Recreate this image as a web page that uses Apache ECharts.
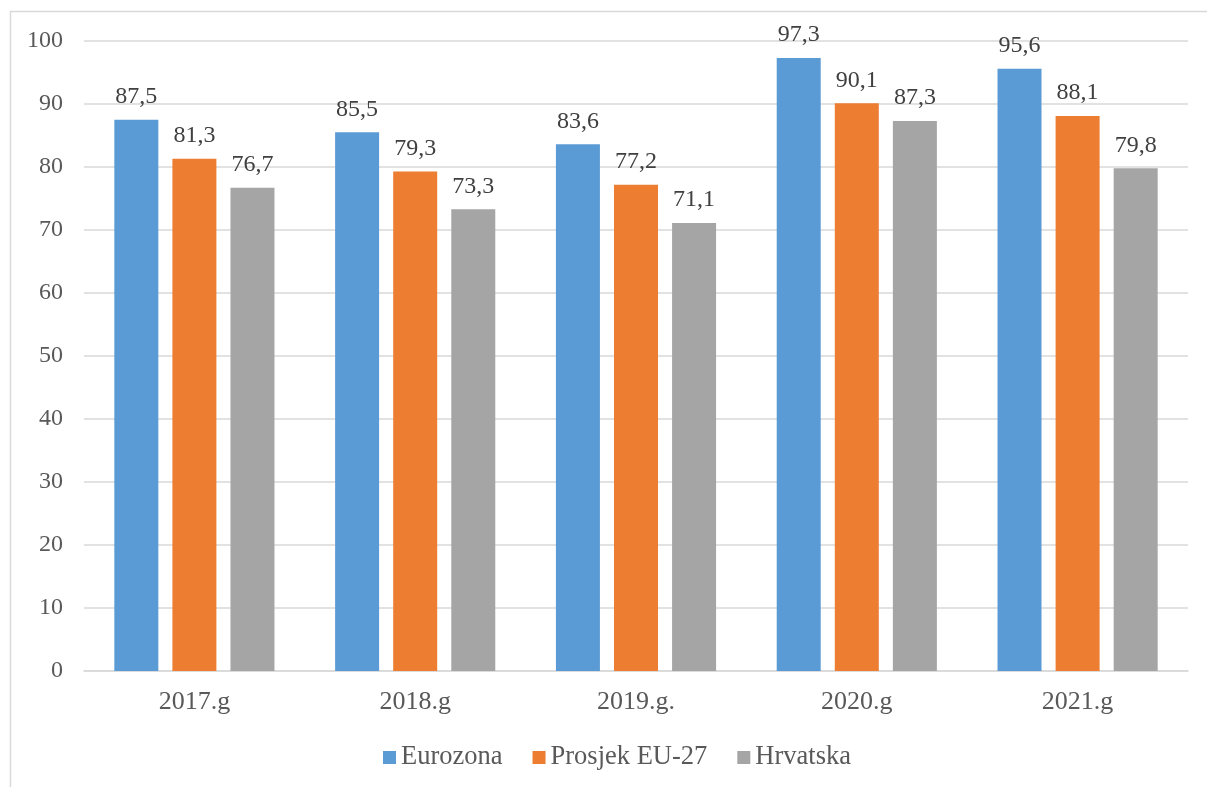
<!DOCTYPE html>
<html>
<head>
<meta charset="utf-8">
<style>
  html, body { margin: 0; padding: 0; background: #ffffff; }
  #chart { width: 1207px; height: 787px; }
</style>
<script src="https://cdn.jsdelivr.net/npm/echarts@6/dist/echarts.min.js"></script>
</head>
<body>
<div id="chart"></div>
<script>
// Categories (years) and series values
const years = ['2017.g', '2018.g', '2019.g.', '2020.g', '2021.g'];
const eurozona = [87.5, 85.5, 83.6, 97.3, 95.6];
const prosjekEU27 = [81.3, 79.3, 77.2, 90.1, 88.1];
const hrvatska = [76.7, 73.3, 71.1, 87.3, 79.8];

const seriesNames = ['Eurozona', 'Prosjek EU-27', 'Hrvatska'];
const seriesColors = ['#5b9bd5', '#ed7d31', '#a5a5a5'];

const FONT = '"Liberation Serif", "Times New Roman", serif';

const chart = echarts.init(document.getElementById('chart'));

function barSeries(name, data, color) {
  return {
    name: name,
    type: 'bar',
    data: data,
    barWidth: 44,
    barGap: '32%',
    itemStyle: { color: color },
    label: {
      show: true,
      position: 'top',
      distance: 11,
      fontFamily: FONT,
      fontSize: 24,
      color: '#404040',
      formatter: p => String(p.value).replace('.', ',')
    }
  };
}

chart.setOption({
  animation: false,
  backgroundColor: '#ffffff',
  graphic: [{
    type: 'rect',
    shape: { x: 10.5, y: 11.5, width: 1300, height: 900 },
    style: { fill: 'none', stroke: '#d9d9d9', lineWidth: 1.5 },
    silent: true
  }],
  grid: { left: 84, right: 19, top: 41, bottom: 116, containLabel: false },
  legend: {
    top: 744,
    left: 383,
    padding: 0,
    itemWidth: 13,
    itemHeight: 13,
    itemGap: 30,
    icon: 'rect',
    textStyle: { fontFamily: FONT, fontSize: 26.5, color: '#595959' },
    data: seriesNames
  },
  xAxis: {
    type: 'category',
    data: years,
    axisLine: { show: true, lineStyle: { color: '#d9d9d9', width: 1.5 } },
    axisTick: { show: false },
    axisLabel: { fontFamily: FONT, fontSize: 26, color: '#595959', margin: 18 }
  },
  yAxis: {
    type: 'value',
    min: 0,
    max: 100,
    interval: 10,
    axisLine: { show: false },
    axisTick: { show: false },
    splitLine: { lineStyle: { color: '#d9d9d9', width: 1.5 } },
    axisLabel: { fontFamily: FONT, fontSize: 24, color: '#595959', margin: 21 }
  },
  series: [
    barSeries(seriesNames[0], eurozona, seriesColors[0]),
    barSeries(seriesNames[1], prosjekEU27, seriesColors[1]),
    barSeries(seriesNames[2], hrvatska, seriesColors[2])
  ]
});
</script>
</body>
</html>
